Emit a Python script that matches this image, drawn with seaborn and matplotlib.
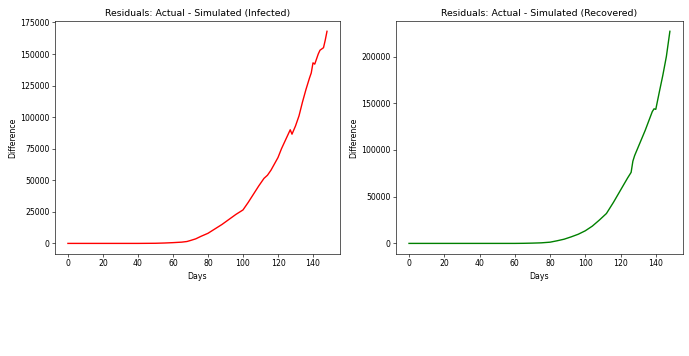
import matplotlib
matplotlib.use('Agg')
import matplotlib.pyplot as plt
import seaborn as sns

# Residuals (day -> actual minus simulated)
inf_days = [0, 10, 20, 30, 40, 50, 55, 60, 65, 68, 70, 73, 76, 80, 84, 88, 92, 96,
            100, 103, 106, 109, 112, 114, 116, 118, 120, 122, 124, 126, 127, 128,
            130, 132, 134, 136, 138, 139, 140, 141, 142, 143, 144, 145, 146, 147, 148]
inf_vals = [0, 0, 0, 0, 0, 100, 300, 600, 1000, 1500, 2300, 3600, 5600, 8000, 11500,
            15000, 19000, 23000, 26500, 32500, 39000, 45500, 51500, 54000, 58000,
            63000, 68000, 75000, 81000, 87000, 90000, 86500, 93000, 101000, 112000,
            122000, 131000, 135000, 143000, 142000, 146000, 150000, 153000, 154000,
            155000, 161000, 168000]

rec_days = [0, 10, 20, 30, 40, 50, 60, 65, 70, 75, 80, 84, 88, 92, 96, 100, 104,
            108, 112, 114, 116, 118, 120, 122, 124, 126, 127, 128, 130, 132, 134,
            136, 138, 139, 140, 142, 144, 146, 148]
rec_vals = [0, 0, 0, 0, 0, 0, 0, 100, 300, 600, 1300, 2800, 4500, 7000, 9800,
            13500, 18500, 25000, 32000, 38000, 44000, 50500, 57000, 63500, 70000,
            76000, 88000, 94000, 103000, 112000, 121000, 131000, 141000, 144000,
            143500, 162000, 180000, 200000, 227000]

s = 0.56
plt.rcParams.update({
    'font.size': 10 * s,
    'axes.titlesize': 12 * s,
    'axes.labelsize': 10 * s,
    'axes.linewidth': 0.8 * s,
    'lines.linewidth': 1.0,
    'xtick.major.size': 3.5 * s,
    'ytick.major.size': 3.5 * s,
    'xtick.major.width': 0.8 * s,
    'ytick.major.width': 0.8 * s,
    'xtick.major.pad': 3.5 * s,
    'ytick.major.pad': 3.5 * s,
    'axes.titlepad': 6 * s,
    'axes.labelpad': 4 * s,
})

fig = plt.figure(figsize=(6.89, 3.56), dpi=100)
ax1 = fig.add_axes([0.0798, 0.2865, 0.4136, 0.6554])
ax2 = fig.add_axes([0.5747, 0.2865, 0.4165, 0.6554])

# Infected residuals
sns.lineplot(x=inf_days, y=inf_vals, color='red', ax=ax1)
ax1.set_title('Residuals: Actual - Simulated (Infected)')
ax1.set_xlabel('Days')
ax1.set_ylabel('Difference')
ax1.set_yticks([0, 25000, 50000, 75000, 100000, 125000, 150000, 175000])

# Recovered residuals
sns.lineplot(x=rec_days, y=rec_vals, color='green', ax=ax2)
ax2.set_title('Residuals: Actual - Simulated (Recovered)')
ax2.set_xlabel('Days')
ax2.set_ylabel('Difference')

for ax in (ax1, ax2):
    ax.set_xticks([0, 20, 40, 60, 80, 100, 120, 140])

fig.savefig('out.png', dpi=100)
